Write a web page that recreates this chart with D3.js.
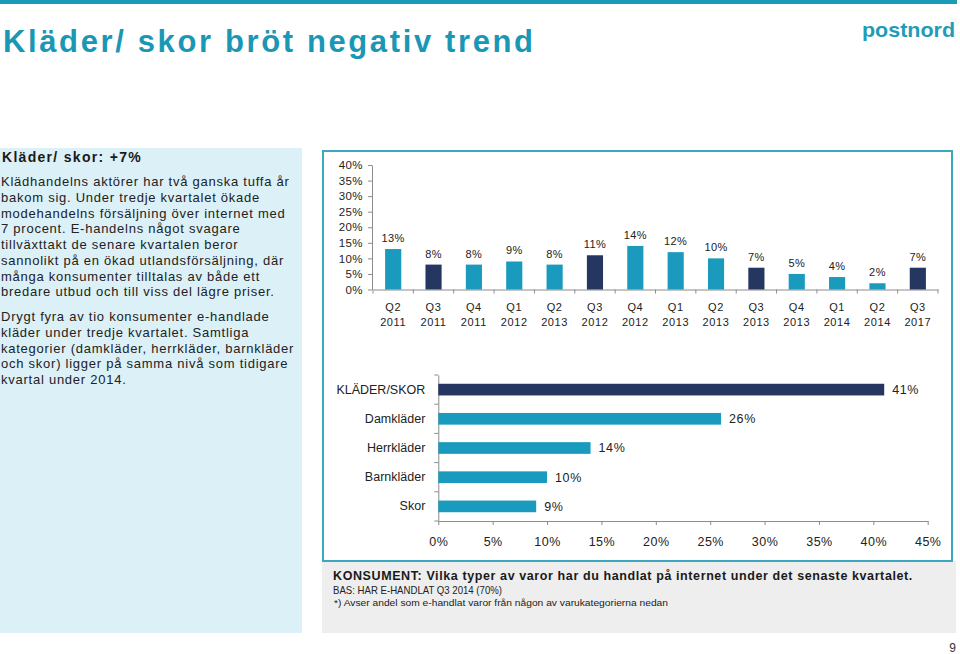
<!DOCTYPE html>
<html><head><meta charset="utf-8">
<script src="https://cdn.jsdelivr.net/npm/d3@7"></script>
<style>
html,body{margin:0;padding:0;background:#fff;}
svg{display:block;font-family:"Liberation Sans",Arial,Helvetica,sans-serif;}
</style></head>
<body>
<svg id="c" width="960" height="654"></svg>
<script>
// ---------- data ----------
const quarters = ["Q2 2011","Q3 2011","Q4 2011","Q1 2012","Q2 2013","Q3 2012","Q4 2012","Q1 2013","Q2 2013","Q3 2013","Q4 2013","Q1 2014","Q2 2014","Q3 2017"];
const growth = [13,8,8,9,8,11,14,12,10,7,5,4,2,7];
const growthTicks = [0,5,10,15,20,25,30,35,40];
const categories = ["KLÄDER/SKOR","Damkläder","Herrkläder","Barnkläder","Skor"];
const shares = [41,26,14,10,9];
const shareTicks = [0,5,10,15,20,25,30,35,40,45];
const titleText = "Kläder/ skor bröt negativ trend";
const panelHead = "Kläder/ skor: +7%";
const para1 = ["Klädhandelns aktörer har två ganska tuffa år","bakom sig. Under tredje kvartalet ökade","modehandelns försäljning över internet med","7 procent. E-handelns något svagare","tillväxttakt de senare kvartalen beror","sannolikt på en ökad utlandsförsäljning, där","många konsumenter tilltalas av både ett","bredare utbud och till viss del lägre priser."];
const para2 = ["Drygt fyra av tio konsumenter e-handlade","kläder under tredje kvartalet. Samtliga","kategorier (damkläder, herrkläder, barnkläder","och skor) ligger på samma nivå som tidigare","kvartal under 2014."];
const footQ = "KONSUMENT: Vilka typer av varor har du handlat på internet under det senaste kvartalet.";
const footBas = "BAS: HAR E-HANDLAT Q3 2014 (70%)";
const footNote = "*) Avser andel som e-handlat varor från någon av varukategorierna nedan";

const TEAL = "#1a9bbd", NAVY = "#253660", AXIS = "#8c8c8c";
const svg = d3.select("#c");

// ---------- page furniture ----------
svg.append("rect").attr("x",0).attr("y",0).attr("width",957).attr("height",4).attr("fill","#1a9bb8");
svg.append("text").attr("x",3).attr("y",52).attr("fill","#1b97b6").attr("font-weight","bold")
  .attr("font-size",31).attr("textLength",530).attr("lengthAdjust","spacing").text(titleText);
svg.append("text").attr("x",862).attr("y",37).attr("fill","#1e9cba").attr("font-size",21)
  .attr("font-weight",900).attr("textLength",93).attr("lengthAdjust","spacingAndGlyphs").text("postnord");

// left panel
svg.append("rect").attr("x",0).attr("y",148).attr("width",302).attr("height",485).attr("fill","#dcf0f7");
svg.append("text").attr("x",2).attr("y",162).attr("font-size",14).attr("font-weight","bold")
  .attr("fill","#1a1a1a").attr("letter-spacing",1.3).text(panelHead);
const bodyG = svg.append("g").attr("font-size",13).attr("fill","#222").attr("letter-spacing",0.75);
para1.forEach((t,i)=>bodyG.append("text").attr("x",1).attr("y",186+i*15.75).text(t));
para2.forEach((t,i)=>bodyG.append("text").attr("x",1).attr("y",321+i*15.75).text(t));

// chart box + footer box
svg.append("rect").attr("x",322).attr("y",561).attr("width",634).attr("height",72).attr("fill","#eeeeee");
svg.append("rect").attr("x",323).attr("y",151).attr("width",629).attr("height",410)
  .attr("fill","#fff").attr("stroke","#3ea7c0").attr("stroke-width",2);
svg.append("text").attr("x",333).attr("y",580).attr("font-size",12.5).attr("font-weight","bold")
  .attr("fill","#1a1a1a").attr("letter-spacing",0.6).text(footQ);
svg.append("text").attr("x",333).attr("y",594).attr("font-size",11.5).attr("fill","#222")
  .attr("textLength",169).attr("lengthAdjust","spacingAndGlyphs").text(footBas);
svg.append("text").attr("x",334).attr("y",606).attr("font-size",9).attr("fill","#222")
  .attr("textLength",334).attr("lengthAdjust","spacingAndGlyphs").text(footNote);
svg.append("text").attr("x",956).attr("y",652).attr("text-anchor","end").attr("font-size",12).attr("fill","#333").text("9");

// ---------- top column chart ----------
const idx = d3.range(quarters.length);
const x = d3.scaleBand().domain(idx).range([373,938]).paddingInner(0.6).paddingOuter(0.3);
const y = d3.scaleLinear().domain([0,40]).range([289.5,165]);
const colG = svg.append("g");
const yAx = colG.append("g").attr("transform","translate(372,0)")
  .call(d3.axisLeft(y).tickValues(growthTicks).tickFormat(d=>d+"%").tickSize(4).tickSizeOuter(0));
yAx.selectAll("text").attr("font-size",11.5).attr("fill","#222").attr("letter-spacing",0.4).attr("x",-9);
const xAx = colG.append("g").attr("transform","translate(0,289.5)")
  .call(d3.axisBottom(x).tickSize(0).tickSizeOuter(0).tickFormat(""));
const bounds = idx.map(i=>x(i)-x.step()*x.paddingInner()/2).concat([x(idx.length-1)+x.bandwidth()+x.step()*x.paddingInner()/2]);
colG.selectAll("line.bt").data(bounds).join("line").attr("class","bt")
  .attr("x1",d=>d).attr("x2",d=>d).attr("y1",289.5).attr("y2",293.5).attr("stroke",AXIS);
[yAx,xAx].forEach(a=>{a.select(".domain").attr("stroke",AXIS);a.selectAll("line").attr("stroke",AXIS);});
colG.selectAll("rect.col").data(idx).join("rect").attr("class","col")
  .attr("x",i=>x(i)).attr("width",x.bandwidth())
  .attr("y",i=>y(growth[i])).attr("height",i=>y(0)-y(growth[i]))
  .attr("fill",i=>quarters[i].startsWith("Q3")?NAVY:TEAL);
colG.selectAll("text.val").data(idx).join("text").attr("class","val")
  .attr("x",i=>x(i)+x.bandwidth()/2).attr("y",i=>y(growth[i])-7)
  .attr("text-anchor","middle").attr("font-size",11).attr("fill","#222").attr("letter-spacing",0.4)
  .text(i=>growth[i]+"%");
const ql = colG.selectAll("text.ql").data(idx).join("text").attr("class","ql")
  .attr("text-anchor","middle").attr("font-size",11).attr("fill","#222").attr("letter-spacing",0.6);
ql.append("tspan").attr("x",i=>x(i)+x.bandwidth()/2).attr("y",311).text(i=>quarters[i].split(" ")[0]);
ql.append("tspan").attr("x",i=>x(i)+x.bandwidth()/2).attr("y",326).text(i=>quarters[i].split(" ")[1]);

// ---------- bottom bar chart ----------
const hx = d3.scaleLinear().domain([0,45]).range([438.3,927.7]);
const hy = d3.scaleBand().domain(categories).range([375,521]).paddingInner(0.6).paddingOuter(0.3);
const barG = svg.append("g");
const bxAx = barG.append("g").attr("transform","translate(0,521)")
  .call(d3.axisBottom(hx).tickValues(shareTicks).tickFormat(d=>d+"%").tickSize(4).tickSizeOuter(0));
bxAx.selectAll("text").attr("font-size",12.5).attr("fill","#222").attr("letter-spacing",0.5).attr("y",16);
const byAx = barG.append("g").attr("transform","translate(438.3,0)")
  .call(d3.axisLeft(hy).tickSize(0).tickSizeOuter(0).tickPadding(13));
byAx.selectAll("text").attr("font-size",12.5).attr("fill","#222");
const hb = categories.map(c=>hy(c)-hy.step()*hy.paddingInner()/2).concat([hy(categories[categories.length-1])+hy.bandwidth()+hy.step()*hy.paddingInner()/2]);
barG.selectAll("line.hb").data(hb).join("line").attr("class","hb")
  .attr("x1",hx(0)-4).attr("x2",hx(0)).attr("y1",d=>d).attr("y2",d=>d).attr("stroke",AXIS);
[bxAx,byAx].forEach(a=>{a.select(".domain").attr("stroke",AXIS);a.selectAll("line").attr("stroke",AXIS);});
barG.selectAll("rect.bar").data(categories).join("rect").attr("class","bar")
  .attr("x",hx(0)).attr("y",d=>hy(d)).attr("height",hy.bandwidth())
  .attr("width",(d,i)=>hx(shares[i])-hx(0)).attr("fill",(d,i)=>i===0?NAVY:TEAL);
barG.selectAll("text.hv").data(categories).join("text").attr("class","hv")
  .attr("x",(d,i)=>hx(shares[i])+8).attr("y",d=>hy(d)+hy.bandwidth()/2).attr("dy","0.35em")
  .attr("font-size",12.5).attr("fill","#222").attr("letter-spacing",0.6).text((d,i)=>shares[i]+"%");
</script>
</body></html>
